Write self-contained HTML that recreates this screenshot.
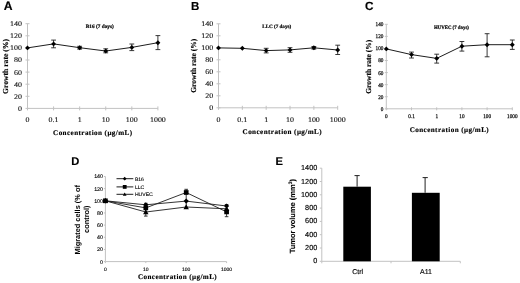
<!DOCTYPE html><html><head><meta charset="utf-8"><style>html,body{margin:0;padding:0;background:#fff;width:520px;height:283px;overflow:hidden}svg{display:block;will-change:transform;text-rendering:geometricPrecision;filter:blur(0.35px)}</style></head><body>
<svg width="520" height="283" viewBox="0 0 520 283">
<rect width="520" height="283" fill="#fff"/>
<line x1="27.50" y1="23.70" x2="27.50" y2="108.40" stroke="#c2c2c2" stroke-width="1"/>
<line x1="25.50" y1="108.40" x2="29.50" y2="108.40" stroke="#c2c2c2" stroke-width="1"/>
<text transform="translate(22.00,110.81) scale(1.12,1)" font-family='"Liberation Serif", serif' font-size="7.1" font-weight="normal" text-anchor="end" fill="#111"  stroke="#111" stroke-width="0.12">0</text>
<line x1="25.50" y1="96.30" x2="29.50" y2="96.30" stroke="#c2c2c2" stroke-width="1"/>
<text transform="translate(22.00,98.71) scale(1.12,1)" font-family='"Liberation Serif", serif' font-size="7.1" font-weight="normal" text-anchor="end" fill="#111"  stroke="#111" stroke-width="0.12">20</text>
<line x1="25.50" y1="84.20" x2="29.50" y2="84.20" stroke="#c2c2c2" stroke-width="1"/>
<text transform="translate(22.00,86.61) scale(1.12,1)" font-family='"Liberation Serif", serif' font-size="7.1" font-weight="normal" text-anchor="end" fill="#111"  stroke="#111" stroke-width="0.12">40</text>
<line x1="25.50" y1="72.10" x2="29.50" y2="72.10" stroke="#c2c2c2" stroke-width="1"/>
<text transform="translate(22.00,74.51) scale(1.12,1)" font-family='"Liberation Serif", serif' font-size="7.1" font-weight="normal" text-anchor="end" fill="#111"  stroke="#111" stroke-width="0.12">60</text>
<line x1="25.50" y1="60.00" x2="29.50" y2="60.00" stroke="#c2c2c2" stroke-width="1"/>
<text transform="translate(22.00,62.41) scale(1.12,1)" font-family='"Liberation Serif", serif' font-size="7.1" font-weight="normal" text-anchor="end" fill="#111"  stroke="#111" stroke-width="0.12">80</text>
<line x1="25.50" y1="47.90" x2="29.50" y2="47.90" stroke="#c2c2c2" stroke-width="1"/>
<text transform="translate(22.00,50.31) scale(1.12,1)" font-family='"Liberation Serif", serif' font-size="7.1" font-weight="normal" text-anchor="end" fill="#111"  stroke="#111" stroke-width="0.12">100</text>
<line x1="25.50" y1="35.80" x2="29.50" y2="35.80" stroke="#c2c2c2" stroke-width="1"/>
<text transform="translate(22.00,38.21) scale(1.12,1)" font-family='"Liberation Serif", serif' font-size="7.1" font-weight="normal" text-anchor="end" fill="#111"  stroke="#111" stroke-width="0.12">120</text>
<line x1="25.50" y1="23.70" x2="29.50" y2="23.70" stroke="#c2c2c2" stroke-width="1"/>
<text transform="translate(22.00,26.11) scale(1.12,1)" font-family='"Liberation Serif", serif' font-size="7.1" font-weight="normal" text-anchor="end" fill="#111"  stroke="#111" stroke-width="0.12">140</text>
<line x1="27.50" y1="108.40" x2="157.90" y2="108.40" stroke="#c2c2c2" stroke-width="1"/>
<line x1="27.50" y1="106.40" x2="27.50" y2="110.40" stroke="#c2c2c2" stroke-width="1"/>
<text transform="translate(27.50,121.90) scale(1.12,1)" font-family='"Liberation Serif", serif' font-size="7.1" font-weight="normal" text-anchor="middle" fill="#111"  stroke="#111" stroke-width="0.12">0</text>
<line x1="53.58" y1="106.40" x2="53.58" y2="110.40" stroke="#c2c2c2" stroke-width="1"/>
<text transform="translate(53.58,121.90) scale(1.12,1)" font-family='"Liberation Serif", serif' font-size="7.1" font-weight="normal" text-anchor="middle" fill="#111"  stroke="#111" stroke-width="0.12">0.1</text>
<line x1="79.66" y1="106.40" x2="79.66" y2="110.40" stroke="#c2c2c2" stroke-width="1"/>
<text transform="translate(79.66,121.90) scale(1.12,1)" font-family='"Liberation Serif", serif' font-size="7.1" font-weight="normal" text-anchor="middle" fill="#111"  stroke="#111" stroke-width="0.12">1</text>
<line x1="105.74" y1="106.40" x2="105.74" y2="110.40" stroke="#c2c2c2" stroke-width="1"/>
<text transform="translate(105.74,121.90) scale(1.12,1)" font-family='"Liberation Serif", serif' font-size="7.1" font-weight="normal" text-anchor="middle" fill="#111"  stroke="#111" stroke-width="0.12">10</text>
<line x1="131.82" y1="106.40" x2="131.82" y2="110.40" stroke="#c2c2c2" stroke-width="1"/>
<text transform="translate(131.82,121.90) scale(1.12,1)" font-family='"Liberation Serif", serif' font-size="7.1" font-weight="normal" text-anchor="middle" fill="#111"  stroke="#111" stroke-width="0.12">100</text>
<line x1="157.90" y1="106.40" x2="157.90" y2="110.40" stroke="#c2c2c2" stroke-width="1"/>
<text transform="translate(157.90,121.90) scale(1.12,1)" font-family='"Liberation Serif", serif' font-size="7.1" font-weight="normal" text-anchor="middle" fill="#111"  stroke="#111" stroke-width="0.12">1000</text>
<text x="3.80" y="9.50" font-family='"Liberation Sans", sans-serif' font-size="12.2" font-weight="bold" text-anchor="start" fill="#000"  stroke="#000" stroke-width="0.15">A</text>
<text x="85.80" y="28.20" font-family='"Liberation Serif", serif' font-size="5.3" font-weight="bold" text-anchor="start" fill="#000" textLength="28" lengthAdjust="spacingAndGlyphs" stroke="#000" stroke-width="0.2">B16 (7 days)</text>
<text x="53.10" y="135.00" font-family='"Liberation Serif", serif' font-size="7.1" font-weight="bold" text-anchor="start" fill="#000" textLength="79" lengthAdjust="spacing" stroke="#000" stroke-width="0.15">Concentration (μg/mL)</text>
<text transform="translate(7.60,66.50) rotate(-90)" x="0" y="0" font-family='"Liberation Serif", serif' font-size="7.6" font-weight="bold" text-anchor="middle" fill="#000" stroke="#000" stroke-width="0.15" textLength="55" lengthAdjust="spacingAndGlyphs">Growth rate (%)</text>
<path d="M27.50 47.90 L53.58 43.90 L79.66 47.70 L105.74 51.00 L131.82 47.40 L157.90 42.70" fill="none" stroke="#1e1e1e" stroke-width="1"/>
<line x1="53.58" y1="40.10" x2="53.58" y2="47.80" stroke="#222" stroke-width="0.9"/>
<line x1="51.18" y1="40.10" x2="55.98" y2="40.10" stroke="#222" stroke-width="0.9"/>
<line x1="51.18" y1="47.80" x2="55.98" y2="47.80" stroke="#222" stroke-width="0.9"/>
<line x1="79.66" y1="46.30" x2="79.66" y2="49.10" stroke="#222" stroke-width="0.9"/>
<line x1="77.26" y1="46.30" x2="82.06" y2="46.30" stroke="#222" stroke-width="0.9"/>
<line x1="77.26" y1="49.10" x2="82.06" y2="49.10" stroke="#222" stroke-width="0.9"/>
<line x1="105.74" y1="48.80" x2="105.74" y2="52.80" stroke="#222" stroke-width="0.9"/>
<line x1="103.34" y1="48.80" x2="108.14" y2="48.80" stroke="#222" stroke-width="0.9"/>
<line x1="103.34" y1="52.80" x2="108.14" y2="52.80" stroke="#222" stroke-width="0.9"/>
<line x1="131.82" y1="44.00" x2="131.82" y2="50.60" stroke="#222" stroke-width="0.9"/>
<line x1="129.42" y1="44.00" x2="134.22" y2="44.00" stroke="#222" stroke-width="0.9"/>
<line x1="129.42" y1="50.60" x2="134.22" y2="50.60" stroke="#222" stroke-width="0.9"/>
<line x1="157.90" y1="35.60" x2="157.90" y2="49.60" stroke="#222" stroke-width="0.9"/>
<line x1="155.50" y1="35.60" x2="160.30" y2="35.60" stroke="#222" stroke-width="0.9"/>
<line x1="155.50" y1="49.60" x2="160.30" y2="49.60" stroke="#222" stroke-width="0.9"/>
<path d="M27.50 45.45L29.95 47.90L27.50 50.35L25.05 47.90Z" fill="#000"/>
<path d="M53.58 41.45L56.03 43.90L53.58 46.35L51.13 43.90Z" fill="#000"/>
<path d="M79.66 45.25L82.11 47.70L79.66 50.15L77.21 47.70Z" fill="#000"/>
<path d="M105.74 48.55L108.19 51.00L105.74 53.45L103.29 51.00Z" fill="#000"/>
<path d="M131.82 44.95L134.27 47.40L131.82 49.85L129.37 47.40Z" fill="#000"/>
<path d="M157.90 40.25L160.35 42.70L157.90 45.15L155.45 42.70Z" fill="#000"/>
<line x1="218.50" y1="23.80" x2="218.50" y2="107.80" stroke="#c2c2c2" stroke-width="1"/>
<line x1="216.50" y1="107.80" x2="220.50" y2="107.80" stroke="#c2c2c2" stroke-width="1"/>
<text transform="translate(213.20,110.21) scale(1.12,1)" font-family='"Liberation Serif", serif' font-size="7.1" font-weight="normal" text-anchor="end" fill="#111"  stroke="#111" stroke-width="0.12">0</text>
<line x1="216.50" y1="95.80" x2="220.50" y2="95.80" stroke="#c2c2c2" stroke-width="1"/>
<text transform="translate(213.20,98.21) scale(1.12,1)" font-family='"Liberation Serif", serif' font-size="7.1" font-weight="normal" text-anchor="end" fill="#111"  stroke="#111" stroke-width="0.12">20</text>
<line x1="216.50" y1="83.80" x2="220.50" y2="83.80" stroke="#c2c2c2" stroke-width="1"/>
<text transform="translate(213.20,86.21) scale(1.12,1)" font-family='"Liberation Serif", serif' font-size="7.1" font-weight="normal" text-anchor="end" fill="#111"  stroke="#111" stroke-width="0.12">40</text>
<line x1="216.50" y1="71.80" x2="220.50" y2="71.80" stroke="#c2c2c2" stroke-width="1"/>
<text transform="translate(213.20,74.21) scale(1.12,1)" font-family='"Liberation Serif", serif' font-size="7.1" font-weight="normal" text-anchor="end" fill="#111"  stroke="#111" stroke-width="0.12">60</text>
<line x1="216.50" y1="59.80" x2="220.50" y2="59.80" stroke="#c2c2c2" stroke-width="1"/>
<text transform="translate(213.20,62.21) scale(1.12,1)" font-family='"Liberation Serif", serif' font-size="7.1" font-weight="normal" text-anchor="end" fill="#111"  stroke="#111" stroke-width="0.12">80</text>
<line x1="216.50" y1="47.80" x2="220.50" y2="47.80" stroke="#c2c2c2" stroke-width="1"/>
<text transform="translate(213.20,50.21) scale(1.12,1)" font-family='"Liberation Serif", serif' font-size="7.1" font-weight="normal" text-anchor="end" fill="#111"  stroke="#111" stroke-width="0.12">100</text>
<line x1="216.50" y1="35.80" x2="220.50" y2="35.80" stroke="#c2c2c2" stroke-width="1"/>
<text transform="translate(213.20,38.21) scale(1.12,1)" font-family='"Liberation Serif", serif' font-size="7.1" font-weight="normal" text-anchor="end" fill="#111"  stroke="#111" stroke-width="0.12">120</text>
<line x1="216.50" y1="23.80" x2="220.50" y2="23.80" stroke="#c2c2c2" stroke-width="1"/>
<text transform="translate(213.20,26.21) scale(1.12,1)" font-family='"Liberation Serif", serif' font-size="7.1" font-weight="normal" text-anchor="end" fill="#111"  stroke="#111" stroke-width="0.12">140</text>
<line x1="218.50" y1="107.80" x2="337.70" y2="107.80" stroke="#c2c2c2" stroke-width="1"/>
<line x1="218.50" y1="105.80" x2="218.50" y2="109.80" stroke="#c2c2c2" stroke-width="1"/>
<text transform="translate(218.50,121.60) scale(1.12,1)" font-family='"Liberation Serif", serif' font-size="7.1" font-weight="normal" text-anchor="middle" fill="#111"  stroke="#111" stroke-width="0.12">0</text>
<line x1="242.34" y1="105.80" x2="242.34" y2="109.80" stroke="#c2c2c2" stroke-width="1"/>
<text transform="translate(242.34,121.60) scale(1.12,1)" font-family='"Liberation Serif", serif' font-size="7.1" font-weight="normal" text-anchor="middle" fill="#111"  stroke="#111" stroke-width="0.12">0.1</text>
<line x1="266.18" y1="105.80" x2="266.18" y2="109.80" stroke="#c2c2c2" stroke-width="1"/>
<text transform="translate(266.18,121.60) scale(1.12,1)" font-family='"Liberation Serif", serif' font-size="7.1" font-weight="normal" text-anchor="middle" fill="#111"  stroke="#111" stroke-width="0.12">1</text>
<line x1="290.02" y1="105.80" x2="290.02" y2="109.80" stroke="#c2c2c2" stroke-width="1"/>
<text transform="translate(290.02,121.60) scale(1.12,1)" font-family='"Liberation Serif", serif' font-size="7.1" font-weight="normal" text-anchor="middle" fill="#111"  stroke="#111" stroke-width="0.12">10</text>
<line x1="313.86" y1="105.80" x2="313.86" y2="109.80" stroke="#c2c2c2" stroke-width="1"/>
<text transform="translate(313.86,121.60) scale(1.12,1)" font-family='"Liberation Serif", serif' font-size="7.1" font-weight="normal" text-anchor="middle" fill="#111"  stroke="#111" stroke-width="0.12">100</text>
<line x1="337.70" y1="105.80" x2="337.70" y2="109.80" stroke="#c2c2c2" stroke-width="1"/>
<text transform="translate(337.70,121.60) scale(1.12,1)" font-family='"Liberation Serif", serif' font-size="7.1" font-weight="normal" text-anchor="middle" fill="#111"  stroke="#111" stroke-width="0.12">1000</text>
<text x="191.10" y="9.80" font-family='"Liberation Sans", sans-serif' font-size="11.5" font-weight="bold" text-anchor="start" fill="#000"  stroke="#000" stroke-width="0.15">B</text>
<text x="262.30" y="27.70" font-family='"Liberation Serif", serif' font-size="5.0" font-weight="bold" text-anchor="start" fill="#000" textLength="28.8" lengthAdjust="spacingAndGlyphs" stroke="#000" stroke-width="0.2">LLC (7 days)</text>
<text x="242.60" y="133.80" font-family='"Liberation Serif", serif' font-size="7.1" font-weight="bold" text-anchor="start" fill="#000" textLength="79" lengthAdjust="spacing" stroke="#000" stroke-width="0.15">Concentration (μg/mL)</text>
<text transform="translate(196.30,65.80) rotate(-90)" x="0" y="0" font-family='"Liberation Serif", serif' font-size="7.6" font-weight="bold" text-anchor="middle" fill="#000" stroke="#000" stroke-width="0.15" textLength="54" lengthAdjust="spacingAndGlyphs">Growth rate (%)</text>
<path d="M218.50 47.90 L242.34 48.30 L266.18 50.60 L290.02 49.90 L313.86 47.80 L337.70 50.00" fill="none" stroke="#1e1e1e" stroke-width="1"/>
<line x1="266.18" y1="48.30" x2="266.18" y2="52.90" stroke="#222" stroke-width="0.9"/>
<line x1="263.78" y1="48.30" x2="268.58" y2="48.30" stroke="#222" stroke-width="0.9"/>
<line x1="263.78" y1="52.90" x2="268.58" y2="52.90" stroke="#222" stroke-width="0.9"/>
<line x1="290.02" y1="47.70" x2="290.02" y2="52.30" stroke="#222" stroke-width="0.9"/>
<line x1="287.62" y1="47.70" x2="292.42" y2="47.70" stroke="#222" stroke-width="0.9"/>
<line x1="287.62" y1="52.30" x2="292.42" y2="52.30" stroke="#222" stroke-width="0.9"/>
<line x1="313.86" y1="46.50" x2="313.86" y2="49.10" stroke="#222" stroke-width="0.9"/>
<line x1="311.46" y1="46.50" x2="316.26" y2="46.50" stroke="#222" stroke-width="0.9"/>
<line x1="311.46" y1="49.10" x2="316.26" y2="49.10" stroke="#222" stroke-width="0.9"/>
<line x1="337.70" y1="45.20" x2="337.70" y2="54.50" stroke="#222" stroke-width="0.9"/>
<line x1="335.30" y1="45.20" x2="340.10" y2="45.20" stroke="#222" stroke-width="0.9"/>
<line x1="335.30" y1="54.50" x2="340.10" y2="54.50" stroke="#222" stroke-width="0.9"/>
<path d="M218.50 45.45L220.95 47.90L218.50 50.35L216.05 47.90Z" fill="#000"/>
<path d="M242.34 45.85L244.79 48.30L242.34 50.75L239.89 48.30Z" fill="#000"/>
<path d="M266.18 48.15L268.63 50.60L266.18 53.05L263.73 50.60Z" fill="#000"/>
<path d="M290.02 47.45L292.47 49.90L290.02 52.35L287.57 49.90Z" fill="#000"/>
<path d="M313.86 45.35L316.31 47.80L313.86 50.25L311.41 47.80Z" fill="#000"/>
<path d="M337.70 47.55L340.15 50.00L337.70 52.45L335.25 50.00Z" fill="#000"/>
<line x1="386.30" y1="24.31" x2="386.30" y2="108.80" stroke="#c2c2c2" stroke-width="1"/>
<line x1="384.80" y1="108.80" x2="387.80" y2="108.80" stroke="#c2c2c2" stroke-width="1"/>
<text transform="translate(383.40,110.74) scale(0.92,1)" font-family='"Liberation Serif", serif' font-size="5.7" font-weight="normal" text-anchor="end" fill="#111"  stroke="#111" stroke-width="0.25">0</text>
<line x1="384.80" y1="96.73" x2="387.80" y2="96.73" stroke="#c2c2c2" stroke-width="1"/>
<text transform="translate(383.40,98.67) scale(0.92,1)" font-family='"Liberation Serif", serif' font-size="5.7" font-weight="normal" text-anchor="end" fill="#111"  stroke="#111" stroke-width="0.25">20</text>
<line x1="384.80" y1="84.66" x2="387.80" y2="84.66" stroke="#c2c2c2" stroke-width="1"/>
<text transform="translate(383.40,86.60) scale(0.92,1)" font-family='"Liberation Serif", serif' font-size="5.7" font-weight="normal" text-anchor="end" fill="#111"  stroke="#111" stroke-width="0.25">40</text>
<line x1="384.80" y1="72.59" x2="387.80" y2="72.59" stroke="#c2c2c2" stroke-width="1"/>
<text transform="translate(383.40,74.53) scale(0.92,1)" font-family='"Liberation Serif", serif' font-size="5.7" font-weight="normal" text-anchor="end" fill="#111"  stroke="#111" stroke-width="0.25">60</text>
<line x1="384.80" y1="60.52" x2="387.80" y2="60.52" stroke="#c2c2c2" stroke-width="1"/>
<text transform="translate(383.40,62.46) scale(0.92,1)" font-family='"Liberation Serif", serif' font-size="5.7" font-weight="normal" text-anchor="end" fill="#111"  stroke="#111" stroke-width="0.25">80</text>
<line x1="384.80" y1="48.45" x2="387.80" y2="48.45" stroke="#c2c2c2" stroke-width="1"/>
<text transform="translate(383.40,50.39) scale(0.92,1)" font-family='"Liberation Serif", serif' font-size="5.7" font-weight="normal" text-anchor="end" fill="#111"  stroke="#111" stroke-width="0.25">100</text>
<line x1="384.80" y1="36.38" x2="387.80" y2="36.38" stroke="#c2c2c2" stroke-width="1"/>
<text transform="translate(383.40,38.32) scale(0.92,1)" font-family='"Liberation Serif", serif' font-size="5.7" font-weight="normal" text-anchor="end" fill="#111"  stroke="#111" stroke-width="0.25">120</text>
<line x1="384.80" y1="24.31" x2="387.80" y2="24.31" stroke="#c2c2c2" stroke-width="1"/>
<text transform="translate(383.40,26.25) scale(0.92,1)" font-family='"Liberation Serif", serif' font-size="5.7" font-weight="normal" text-anchor="end" fill="#111"  stroke="#111" stroke-width="0.25">140</text>
<line x1="386.30" y1="108.80" x2="512.30" y2="108.80" stroke="#c2c2c2" stroke-width="1"/>
<line x1="386.30" y1="107.30" x2="386.30" y2="110.30" stroke="#c2c2c2" stroke-width="1"/>
<text transform="translate(386.30,117.90) scale(0.92,1)" font-family='"Liberation Serif", serif' font-size="5.7" font-weight="normal" text-anchor="middle" fill="#111"  stroke="#111" stroke-width="0.25">0</text>
<line x1="411.50" y1="107.30" x2="411.50" y2="110.30" stroke="#c2c2c2" stroke-width="1"/>
<text transform="translate(411.50,117.90) scale(0.92,1)" font-family='"Liberation Serif", serif' font-size="5.7" font-weight="normal" text-anchor="middle" fill="#111"  stroke="#111" stroke-width="0.25">0.1</text>
<line x1="436.70" y1="107.30" x2="436.70" y2="110.30" stroke="#c2c2c2" stroke-width="1"/>
<text transform="translate(436.70,117.90) scale(0.92,1)" font-family='"Liberation Serif", serif' font-size="5.7" font-weight="normal" text-anchor="middle" fill="#111"  stroke="#111" stroke-width="0.25">1</text>
<line x1="461.90" y1="107.30" x2="461.90" y2="110.30" stroke="#c2c2c2" stroke-width="1"/>
<text transform="translate(461.90,117.90) scale(0.92,1)" font-family='"Liberation Serif", serif' font-size="5.7" font-weight="normal" text-anchor="middle" fill="#111"  stroke="#111" stroke-width="0.25">10</text>
<line x1="487.10" y1="107.30" x2="487.10" y2="110.30" stroke="#c2c2c2" stroke-width="1"/>
<text transform="translate(487.10,117.90) scale(0.92,1)" font-family='"Liberation Serif", serif' font-size="5.7" font-weight="normal" text-anchor="middle" fill="#111"  stroke="#111" stroke-width="0.25">100</text>
<line x1="512.30" y1="107.30" x2="512.30" y2="110.30" stroke="#c2c2c2" stroke-width="1"/>
<text transform="translate(512.30,117.90) scale(0.92,1)" font-family='"Liberation Serif", serif' font-size="5.7" font-weight="normal" text-anchor="middle" fill="#111"  stroke="#111" stroke-width="0.25">1000</text>
<text x="364.90" y="9.80" font-family='"Liberation Sans", sans-serif' font-size="11.8" font-weight="bold" text-anchor="start" fill="#000"  stroke="#000" stroke-width="0.15">C</text>
<text x="433.90" y="29.20" font-family='"Liberation Serif", serif' font-size="5.2" font-weight="bold" text-anchor="start" fill="#000" textLength="35" lengthAdjust="spacingAndGlyphs" stroke="#000" stroke-width="0.2">HUVEC (7 days)</text>
<text x="409.70" y="131.90" font-family='"Liberation Serif", serif' font-size="7.1" font-weight="bold" text-anchor="start" fill="#000" textLength="79" lengthAdjust="spacing" stroke="#000" stroke-width="0.15">Concentration (μg/mL)</text>
<text transform="translate(370.80,66.80) rotate(-90)" x="0" y="0" font-family='"Liberation Serif", serif' font-size="7.6" font-weight="bold" text-anchor="middle" fill="#000" stroke="#000" stroke-width="0.15" textLength="54" lengthAdjust="spacingAndGlyphs">Growth rate (%)</text>
<path d="M386.30 48.90 L411.50 54.60 L436.70 58.40 L461.90 46.20 L487.10 44.70 L512.30 44.70" fill="none" stroke="#1e1e1e" stroke-width="1"/>
<line x1="411.50" y1="52.10" x2="411.50" y2="58.00" stroke="#222" stroke-width="0.9"/>
<line x1="409.10" y1="52.10" x2="413.90" y2="52.10" stroke="#222" stroke-width="0.9"/>
<line x1="409.10" y1="58.00" x2="413.90" y2="58.00" stroke="#222" stroke-width="0.9"/>
<line x1="436.70" y1="54.20" x2="436.70" y2="63.10" stroke="#222" stroke-width="0.9"/>
<line x1="434.30" y1="54.20" x2="439.10" y2="54.20" stroke="#222" stroke-width="0.9"/>
<line x1="434.30" y1="63.10" x2="439.10" y2="63.10" stroke="#222" stroke-width="0.9"/>
<line x1="461.90" y1="41.50" x2="461.90" y2="51.10" stroke="#222" stroke-width="0.9"/>
<line x1="459.50" y1="41.50" x2="464.30" y2="41.50" stroke="#222" stroke-width="0.9"/>
<line x1="459.50" y1="51.10" x2="464.30" y2="51.10" stroke="#222" stroke-width="0.9"/>
<line x1="487.10" y1="33.70" x2="487.10" y2="56.80" stroke="#222" stroke-width="0.9"/>
<line x1="484.70" y1="33.70" x2="489.50" y2="33.70" stroke="#222" stroke-width="0.9"/>
<line x1="484.70" y1="56.80" x2="489.50" y2="56.80" stroke="#222" stroke-width="0.9"/>
<line x1="512.30" y1="40.00" x2="512.30" y2="49.40" stroke="#222" stroke-width="0.9"/>
<line x1="509.90" y1="40.00" x2="514.70" y2="40.00" stroke="#222" stroke-width="0.9"/>
<line x1="509.90" y1="49.40" x2="514.70" y2="49.40" stroke="#222" stroke-width="0.9"/>
<path d="M386.30 46.45L388.75 48.90L386.30 51.35L383.85 48.90Z" fill="#000"/>
<path d="M411.50 52.15L413.95 54.60L411.50 57.05L409.05 54.60Z" fill="#000"/>
<path d="M436.70 55.95L439.15 58.40L436.70 60.85L434.25 58.40Z" fill="#000"/>
<path d="M461.90 43.75L464.35 46.20L461.90 48.65L459.45 46.20Z" fill="#000"/>
<path d="M487.10 42.25L489.55 44.70L487.10 47.15L484.65 44.70Z" fill="#000"/>
<path d="M512.30 42.25L514.75 44.70L512.30 47.15L509.85 44.70Z" fill="#000"/>
<line x1="105.40" y1="176.48" x2="105.40" y2="261.60" stroke="#c2c2c2" stroke-width="1"/>
<line x1="103.90" y1="261.60" x2="105.40" y2="261.60" stroke="#c2c2c2" stroke-width="1"/>
<text x="103.00" y="263.50" font-family='"Liberation Sans", sans-serif' font-size="5.3" font-weight="normal" text-anchor="end" fill="#000"  stroke="#000" stroke-width="0.12">0</text>
<line x1="103.90" y1="249.44" x2="105.40" y2="249.44" stroke="#c2c2c2" stroke-width="1"/>
<text x="103.00" y="251.34" font-family='"Liberation Sans", sans-serif' font-size="5.3" font-weight="normal" text-anchor="end" fill="#000"  stroke="#000" stroke-width="0.12">20</text>
<line x1="103.90" y1="237.28" x2="105.40" y2="237.28" stroke="#c2c2c2" stroke-width="1"/>
<text x="103.00" y="239.18" font-family='"Liberation Sans", sans-serif' font-size="5.3" font-weight="normal" text-anchor="end" fill="#000"  stroke="#000" stroke-width="0.12">40</text>
<line x1="103.90" y1="225.12" x2="105.40" y2="225.12" stroke="#c2c2c2" stroke-width="1"/>
<text x="103.00" y="227.02" font-family='"Liberation Sans", sans-serif' font-size="5.3" font-weight="normal" text-anchor="end" fill="#000"  stroke="#000" stroke-width="0.12">60</text>
<line x1="103.90" y1="212.96" x2="105.40" y2="212.96" stroke="#c2c2c2" stroke-width="1"/>
<text x="103.00" y="214.86" font-family='"Liberation Sans", sans-serif' font-size="5.3" font-weight="normal" text-anchor="end" fill="#000"  stroke="#000" stroke-width="0.12">80</text>
<line x1="103.90" y1="200.80" x2="105.40" y2="200.80" stroke="#c2c2c2" stroke-width="1"/>
<text x="103.00" y="202.70" font-family='"Liberation Sans", sans-serif' font-size="5.3" font-weight="normal" text-anchor="end" fill="#000"  stroke="#000" stroke-width="0.12">100</text>
<line x1="103.90" y1="188.64" x2="105.40" y2="188.64" stroke="#c2c2c2" stroke-width="1"/>
<text x="103.00" y="190.54" font-family='"Liberation Sans", sans-serif' font-size="5.3" font-weight="normal" text-anchor="end" fill="#000"  stroke="#000" stroke-width="0.12">120</text>
<line x1="103.90" y1="176.48" x2="105.40" y2="176.48" stroke="#c2c2c2" stroke-width="1"/>
<text x="103.00" y="178.38" font-family='"Liberation Sans", sans-serif' font-size="5.3" font-weight="normal" text-anchor="end" fill="#000"  stroke="#000" stroke-width="0.12">140</text>
<line x1="105.40" y1="261.60" x2="226.60" y2="261.60" stroke="#c2c2c2" stroke-width="1"/>
<line x1="105.40" y1="261.60" x2="105.40" y2="263.10" stroke="#c2c2c2" stroke-width="1"/>
<text x="105.40" y="270.80" font-family='"Liberation Sans", sans-serif' font-size="5.0" font-weight="normal" text-anchor="middle" fill="#000"  stroke="#000" stroke-width="0.12">0</text>
<line x1="145.80" y1="261.60" x2="145.80" y2="263.10" stroke="#c2c2c2" stroke-width="1"/>
<text x="145.80" y="270.80" font-family='"Liberation Sans", sans-serif' font-size="5.0" font-weight="normal" text-anchor="middle" fill="#000"  stroke="#000" stroke-width="0.12">10</text>
<line x1="186.20" y1="261.60" x2="186.20" y2="263.10" stroke="#c2c2c2" stroke-width="1"/>
<text x="186.20" y="270.80" font-family='"Liberation Sans", sans-serif' font-size="5.0" font-weight="normal" text-anchor="middle" fill="#000"  stroke="#000" stroke-width="0.12">100</text>
<line x1="226.60" y1="261.60" x2="226.60" y2="263.10" stroke="#c2c2c2" stroke-width="1"/>
<text x="226.60" y="270.80" font-family='"Liberation Sans", sans-serif' font-size="5.0" font-weight="normal" text-anchor="middle" fill="#000"  stroke="#000" stroke-width="0.12">1000</text>
<text x="71.30" y="164.70" font-family='"Liberation Sans", sans-serif' font-size="11.2" font-weight="bold" text-anchor="start" fill="#000"  stroke="#000" stroke-width="0.15">D</text>
<text x="138.00" y="278.90" font-family='"Liberation Serif", serif' font-size="7.1" font-weight="bold" text-anchor="start" fill="#000" textLength="78.7" lengthAdjust="spacing" stroke="#000" stroke-width="0.15">Concentration (μg/mL)</text>
<text transform="translate(79.6,219.8) rotate(-90)" font-family='"Liberation Sans", sans-serif' font-size="7.4" font-weight="bold" text-anchor="middle" fill="#000">Migrated cells (% of</text>
<text transform="translate(89.4,219.2) rotate(-90)" font-family='"Liberation Sans", sans-serif' font-size="7.4" font-weight="bold" text-anchor="middle" fill="#000">control)</text>
<line x1="116.50" y1="178.70" x2="133.30" y2="178.70" stroke="#1e1e1e" stroke-width="1"/>
<path d="M124.70 176.80L126.60 178.70L124.70 180.60L122.80 178.70Z" fill="#000"/>
<text x="134.90" y="180.50" font-family='"Liberation Sans", sans-serif' font-size="5.1" font-weight="normal" text-anchor="start" fill="#000"  stroke="#000" stroke-width="0.12">B16</text>
<line x1="116.50" y1="186.90" x2="133.30" y2="186.90" stroke="#1e1e1e" stroke-width="1"/>
<rect x="122.80" y="185.00" width="3.80" height="3.80" fill="#000"/>
<text x="134.90" y="188.70" font-family='"Liberation Sans", sans-serif' font-size="5.1" font-weight="normal" text-anchor="start" fill="#000"  stroke="#000" stroke-width="0.12">LLC</text>
<line x1="116.50" y1="194.30" x2="133.30" y2="194.30" stroke="#1e1e1e" stroke-width="1"/>
<path d="M124.70 192.40L126.60 195.82L122.80 195.82Z" fill="#000"/>
<text x="134.90" y="196.10" font-family='"Liberation Sans", sans-serif' font-size="5.1" font-weight="normal" text-anchor="start" fill="#000"  stroke="#000" stroke-width="0.12">HUVEC</text>
<path d="M105.40 200.80 L145.80 204.80 L186.20 201.10 L226.60 206.00" fill="none" stroke="#1e1e1e" stroke-width="0.9"/>
<path d="M105.40 200.80 L145.80 207.90 L186.20 192.50 L226.60 211.90" fill="none" stroke="#1e1e1e" stroke-width="0.9"/>
<path d="M105.40 200.80 L145.80 212.00 L186.20 207.00 L226.60 208.80" fill="none" stroke="#1e1e1e" stroke-width="0.9"/>
<line x1="145.80" y1="203.30" x2="145.80" y2="216.10" stroke="#222" stroke-width="0.9"/>
<line x1="144.00" y1="203.30" x2="147.60" y2="203.30" stroke="#222" stroke-width="0.9"/>
<line x1="144.00" y1="216.10" x2="147.60" y2="216.10" stroke="#222" stroke-width="0.9"/>
<line x1="186.20" y1="189.30" x2="186.20" y2="208.50" stroke="#222" stroke-width="0.9"/>
<line x1="184.40" y1="189.30" x2="188.00" y2="189.30" stroke="#222" stroke-width="0.9"/>
<line x1="184.40" y1="208.50" x2="188.00" y2="208.50" stroke="#222" stroke-width="0.9"/>
<line x1="226.60" y1="204.50" x2="226.60" y2="216.70" stroke="#222" stroke-width="0.9"/>
<line x1="224.80" y1="204.50" x2="228.40" y2="204.50" stroke="#222" stroke-width="0.9"/>
<line x1="224.80" y1="216.70" x2="228.40" y2="216.70" stroke="#222" stroke-width="0.9"/>
<path d="M105.40 198.10L108.10 202.96L102.70 202.96Z" fill="#000"/>
<path d="M145.80 209.30L148.50 214.16L143.10 214.16Z" fill="#000"/>
<path d="M186.20 204.30L188.90 209.16L183.50 209.16Z" fill="#000"/>
<path d="M226.60 206.10L229.30 210.96L223.90 210.96Z" fill="#000"/>
<path d="M105.40 198.20L108.00 200.80L105.40 203.40L102.80 200.80Z" fill="#000"/>
<path d="M145.80 202.20L148.40 204.80L145.80 207.40L143.20 204.80Z" fill="#000"/>
<path d="M186.20 198.50L188.80 201.10L186.20 203.70L183.60 201.10Z" fill="#000"/>
<path d="M226.60 203.40L229.20 206.00L226.60 208.60L224.00 206.00Z" fill="#000"/>
<rect x="103.05" y="198.45" width="4.70" height="4.70" fill="#000"/>
<rect x="143.45" y="205.55" width="4.70" height="4.70" fill="#000"/>
<rect x="183.85" y="190.15" width="4.70" height="4.70" fill="#000"/>
<rect x="224.25" y="209.55" width="4.70" height="4.70" fill="#000"/>
<line x1="321.80" y1="168.20" x2="321.80" y2="261.30" stroke="#c2c2c2" stroke-width="1"/>
<line x1="319.80" y1="261.30" x2="321.80" y2="261.30" stroke="#c2c2c2" stroke-width="1"/>
<text x="317.30" y="263.30" font-family='"Liberation Sans", sans-serif' font-size="7.3" font-weight="normal" text-anchor="end" fill="#000"  stroke="#000" stroke-width="0.15">0</text>
<line x1="319.80" y1="248.00" x2="321.80" y2="248.00" stroke="#c2c2c2" stroke-width="1"/>
<text x="317.30" y="250.00" font-family='"Liberation Sans", sans-serif' font-size="7.3" font-weight="normal" text-anchor="end" fill="#000"  stroke="#000" stroke-width="0.15">200</text>
<line x1="319.80" y1="234.70" x2="321.80" y2="234.70" stroke="#c2c2c2" stroke-width="1"/>
<text x="317.30" y="236.70" font-family='"Liberation Sans", sans-serif' font-size="7.3" font-weight="normal" text-anchor="end" fill="#000"  stroke="#000" stroke-width="0.15">400</text>
<line x1="319.80" y1="221.40" x2="321.80" y2="221.40" stroke="#c2c2c2" stroke-width="1"/>
<text x="317.30" y="223.40" font-family='"Liberation Sans", sans-serif' font-size="7.3" font-weight="normal" text-anchor="end" fill="#000"  stroke="#000" stroke-width="0.15">600</text>
<line x1="319.80" y1="208.10" x2="321.80" y2="208.10" stroke="#c2c2c2" stroke-width="1"/>
<text x="317.30" y="210.10" font-family='"Liberation Sans", sans-serif' font-size="7.3" font-weight="normal" text-anchor="end" fill="#000"  stroke="#000" stroke-width="0.15">800</text>
<line x1="319.80" y1="194.80" x2="321.80" y2="194.80" stroke="#c2c2c2" stroke-width="1"/>
<text x="317.30" y="196.80" font-family='"Liberation Sans", sans-serif' font-size="7.3" font-weight="normal" text-anchor="end" fill="#000"  stroke="#000" stroke-width="0.15">1000</text>
<line x1="319.80" y1="181.50" x2="321.80" y2="181.50" stroke="#c2c2c2" stroke-width="1"/>
<text x="317.30" y="183.50" font-family='"Liberation Sans", sans-serif' font-size="7.3" font-weight="normal" text-anchor="end" fill="#000"  stroke="#000" stroke-width="0.15">1200</text>
<line x1="319.80" y1="168.20" x2="321.80" y2="168.20" stroke="#c2c2c2" stroke-width="1"/>
<text x="317.30" y="170.20" font-family='"Liberation Sans", sans-serif' font-size="7.3" font-weight="normal" text-anchor="end" fill="#000"  stroke="#000" stroke-width="0.15">1400</text>
<line x1="321.80" y1="261.30" x2="460.30" y2="261.30" stroke="#c2c2c2" stroke-width="1"/>
<line x1="321.80" y1="261.30" x2="321.80" y2="263.30" stroke="#c2c2c2" stroke-width="1"/>
<line x1="391.00" y1="261.30" x2="391.00" y2="263.30" stroke="#c2c2c2" stroke-width="1"/>
<line x1="460.30" y1="261.30" x2="460.30" y2="263.30" stroke="#c2c2c2" stroke-width="1"/>
<rect x="343.3" y="186.7" width="27.6" height="74.6" fill="#000"/>
<rect x="411.9" y="192.8" width="27.8" height="68.5" fill="#000"/>
<line x1="357.10" y1="175.60" x2="357.10" y2="186.70" stroke="#222" stroke-width="1"/>
<line x1="354.50" y1="175.60" x2="359.70" y2="175.60" stroke="#222" stroke-width="1"/>
<line x1="425.10" y1="177.60" x2="425.10" y2="192.80" stroke="#222" stroke-width="1"/>
<line x1="422.60" y1="177.60" x2="427.80" y2="177.60" stroke="#222" stroke-width="1"/>
<text x="357.60" y="273.80" font-family='"Liberation Sans", sans-serif' font-size="7.0" font-weight="normal" text-anchor="middle" fill="#000"  stroke="#000" stroke-width="0.15">Ctrl</text>
<text x="426.00" y="273.80" font-family='"Liberation Sans", sans-serif' font-size="7.0" font-weight="normal" text-anchor="middle" fill="#000"  stroke="#000" stroke-width="0.15">A11</text>
<text x="275.60" y="164.80" font-family='"Liberation Sans", sans-serif' font-size="11.2" font-weight="bold" text-anchor="start" fill="#000"  stroke="#000" stroke-width="0.15">E</text>
<text transform="translate(294.7,216.2) rotate(-90)" font-family='"Liberation Sans", sans-serif' font-size="7.5" font-weight="bold" text-anchor="middle" fill="#000" stroke="#000" stroke-width="0.12">Tumor volume (mm<tspan font-size="5" dy="-2.5">3</tspan><tspan dy="2.5">)</tspan></text>
</svg></body></html>
